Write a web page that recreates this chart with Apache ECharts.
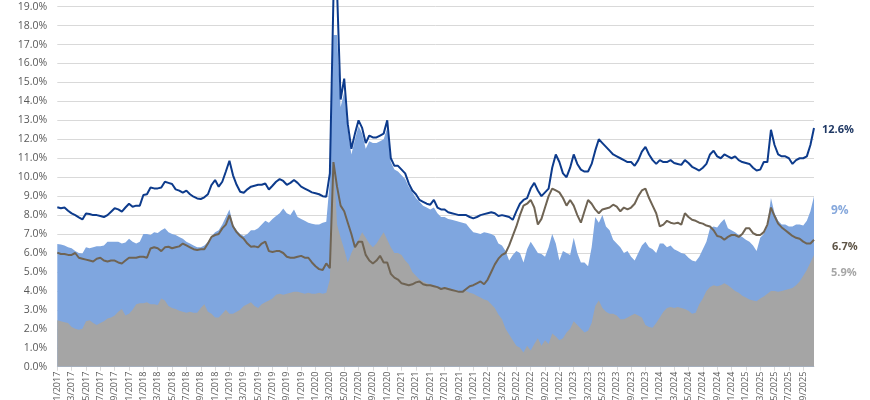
<!DOCTYPE html>
<html>
<head>
<meta charset="utf-8">
<script src="https://cdn.jsdelivr.net/npm/echarts@6/dist/echarts.min.js"></script>
<style>html,body{margin:0;padding:0;background:#fff}#c{width:870px;height:400px}</style>
</head>
<body>
<div id="c"></div>
<script>
// semi-monthly observations, Jan 2017 – Oct 2025
const startYear = 2017, startMonth = 1, pointCount = 212;
const categories = [];
for (let i = 0; i < pointCount; i++) {
  const m = startMonth - 1 + Math.floor(i / 2);
  const y = startYear + Math.floor(m / 12);
  const mm = String(m % 12 + 1).padStart(2, '0');
  const dd = i % 2 === 0 ? '01' : '16';
  categories.push(dd + '/' + mm + '/' + y);
}

const darkBlueLine = [
 8.41,8.36,8.4,8.23,8.09,8.0,7.88,7.77,8.09,8.06,8.0,8.0,7.95,7.9,8.0,8.18,8.36,8.3,8.18,8.4,8.6,8.44,8.5,8.5,9.06,9.1,9.46,9.41,9.41,9.46,9.76,9.7,9.64,9.36,9.29,9.18,9.29,9.1,8.97,8.88,8.85,8.94,9.1,9.59,9.85,9.5,9.76,10.3,10.87,10.1,9.6,9.23,9.18,9.36,
 9.5,9.55,9.6,9.6,9.67,9.35,9.55,9.76,9.9,9.8,9.6,9.7,9.85,9.7,9.5,9.4,9.3,9.2,9.15,9.1,9.0,8.97,10.2,19.5,19.9,14.1,15.2,12.8,11.5,12.3,13.0,12.6,11.8,12.2,12.1,12.1,12.2,12.3,13.0,11.0,10.6,10.6,10.4,10.2,9.67,9.3,9.1,8.8,8.7,8.6,8.55,8.8,8.4,8.3,
 8.3,8.15,8.1,8.05,8.0,8.0,8.0,7.9,7.83,7.9,8.0,8.05,8.1,8.15,8.1,7.95,8.0,7.95,7.9,7.75,8.2,8.6,8.8,8.9,9.4,9.7,9.3,9.0,9.2,9.4,10.5,11.2,10.8,10.2,10.0,10.5,11.2,10.7,10.4,10.3,10.3,10.7,11.4,12.0,11.8,11.6,11.4,11.2,11.1,11.0,10.9,10.8,10.8,10.6,10.9,
 11.35,11.6,11.2,10.9,10.7,10.9,10.8,10.8,10.9,10.75,10.7,10.65,10.9,10.75,10.55,10.45,10.35,10.5,10.7,11.2,11.4,11.1,11.0,11.2,11.1,11.0,11.1,10.9,10.8,10.75,10.7,10.5,10.35,10.4,10.8,10.8,12.5,11.7,11.2,11.1,11.1,11.0,10.7,10.9,11.0,11.0,11.1,11.7,12.6
];
const lightBlueArea = [
 6.47,6.45,6.4,6.3,6.25,6.1,6.0,5.98,6.3,6.25,6.3,6.35,6.35,6.4,6.6,6.6,6.6,6.6,6.5,6.55,6.75,6.6,6.5,6.6,7.0,7.0,6.95,7.1,7.05,7.2,7.3,7.1,7.0,6.95,6.85,6.75,6.6,6.5,6.4,6.3,6.3,6.4,6.6,6.9,7.1,7.2,7.5,7.9,8.3,7.5,7.2,7.0,6.9,7.0,
 7.2,7.2,7.3,7.5,7.7,7.6,7.8,7.95,8.1,8.35,8.1,8.0,8.3,7.9,7.8,7.7,7.6,7.55,7.5,7.5,7.6,7.65,9.8,17.5,17.5,13.7,14.5,12.5,11.2,12.0,12.7,12.3,11.5,11.9,11.8,11.8,11.9,12.0,12.6,10.8,10.4,10.3,10.1,9.9,9.5,9.2,8.9,8.7,8.5,8.4,8.3,8.4,8.1,7.9,
 7.9,7.8,7.75,7.7,7.65,7.6,7.55,7.3,7.1,7.05,7.0,7.1,7.05,7.0,6.9,6.5,6.4,6.1,5.6,5.9,6.1,6.0,5.5,6.2,6.6,6.3,6.0,5.95,5.8,6.3,7.0,6.5,5.6,6.1,6.0,5.9,6.8,6.0,5.5,5.5,5.3,6.3,7.9,7.6,8.0,7.4,7.2,6.7,6.5,6.3,6.0,6.1,5.8,5.6,6.0,
 6.4,6.6,6.3,6.2,6.0,6.5,6.5,6.3,6.4,6.2,6.1,6.0,5.95,5.75,5.6,5.55,5.8,6.2,6.6,7.3,7.4,7.35,7.6,7.8,7.3,7.2,7.1,6.95,6.85,6.7,6.6,6.4,6.1,6.8,7.0,7.5,8.9,8.1,7.7,7.5,7.5,7.4,7.4,7.5,7.5,7.45,7.7,8.2,9.0
];
const greyArea = [
 2.45,2.4,2.35,2.3,2.1,2.0,1.95,2.0,2.4,2.45,2.3,2.2,2.3,2.4,2.55,2.6,2.7,2.9,3.05,2.7,2.8,3.0,3.3,3.35,3.35,3.4,3.3,3.3,3.25,3.6,3.5,3.2,3.1,3.05,2.95,2.9,2.85,2.9,2.85,2.85,3.1,3.3,2.9,2.8,2.6,2.6,2.8,3.0,2.8,2.8,2.9,3.0,3.2,3.3,
 3.4,3.2,3.1,3.3,3.4,3.5,3.6,3.8,3.85,3.8,3.85,3.9,3.95,3.95,3.9,3.85,3.9,3.85,3.85,3.9,3.85,3.9,4.6,11.0,7.5,6.8,6.2,5.5,6.0,6.4,6.7,7.1,6.8,6.5,6.3,6.5,6.8,7.1,6.7,6.3,6.0,6.0,5.9,5.6,5.4,5.0,4.8,4.6,4.5,4.4,4.35,4.3,4.2,4.1,
 4.2,4.15,4.1,4.05,4.0,3.95,4.0,3.9,3.85,3.75,3.65,3.55,3.5,3.3,3.1,2.75,2.5,2.0,1.7,1.4,1.1,1.0,0.75,1.1,0.85,1.2,1.5,1.1,1.4,1.2,1.75,1.6,1.4,1.5,1.8,2.0,2.4,2.2,2.0,1.8,1.9,2.3,3.2,3.5,3.1,2.9,2.8,2.8,2.7,2.5,2.5,2.6,2.7,2.8,2.7,
 2.6,2.2,2.1,2.05,2.3,2.6,2.9,3.1,3.15,3.1,3.15,3.1,3.05,2.95,2.8,2.85,3.3,3.6,4.0,4.2,4.3,4.25,4.3,4.4,4.3,4.15,4.0,3.9,3.75,3.65,3.55,3.5,3.45,3.6,3.7,3.85,4.0,4.0,3.95,4.0,4.05,4.1,4.15,4.3,4.5,4.8,5.1,5.5,5.9
];
const brownLine = [
 6.02,5.95,5.95,5.9,5.9,6.0,5.75,5.7,5.65,5.6,5.55,5.7,5.75,5.6,5.55,5.6,5.6,5.5,5.45,5.6,5.75,5.75,5.75,5.8,5.8,5.75,6.24,6.3,6.25,6.1,6.3,6.33,6.25,6.3,6.35,6.5,6.4,6.3,6.2,6.16,6.2,6.2,6.5,6.85,6.95,7.0,7.3,7.5,8.0,7.4,7.1,6.9,6.75,6.5,
 6.33,6.35,6.3,6.5,6.6,6.1,6.05,6.1,6.1,6.0,5.8,5.75,5.75,5.8,5.85,5.75,5.75,5.5,5.3,5.15,5.1,5.45,5.2,10.8,9.5,8.5,8.2,7.6,7.0,6.3,6.6,6.6,5.9,5.6,5.45,5.6,5.85,5.5,5.5,4.9,4.7,4.6,4.4,4.35,4.3,4.35,4.45,4.5,4.35,4.3,4.3,4.25,4.2,4.1,
 4.15,4.1,4.05,4.0,3.95,3.95,4.1,4.25,4.3,4.4,4.5,4.35,4.6,5.0,5.4,5.7,5.9,6.0,6.4,6.9,7.4,8.0,8.5,8.6,8.8,8.4,7.5,7.8,8.4,9.0,9.4,9.3,9.2,8.9,8.5,8.8,8.5,8.0,7.6,8.2,8.8,8.6,8.3,8.1,8.3,8.35,8.4,8.55,8.45,8.2,8.4,8.3,8.4,8.6,9.0,
 9.3,9.4,8.9,8.5,8.1,7.4,7.5,7.7,7.6,7.55,7.6,7.5,8.1,7.9,7.75,7.7,7.6,7.55,7.45,7.4,7.2,6.9,6.85,6.7,6.85,6.95,6.95,6.85,7.0,7.3,7.3,7.05,6.95,6.95,7.1,7.5,8.4,7.95,7.55,7.35,7.2,7.05,6.9,6.8,6.75,6.6,6.5,6.5,6.7
];
const endLabelTexts = { darkBlue: '12.6%', lightBlue: '9%', brown: '6.7%', grey: '5.9%' };

const FONT = "'Open Sans', 'Noto Sans', sans-serif";
const chart = echarts.init(document.getElementById('c'), null, { renderer: 'canvas' });
chart.setOption({
  animation: false,
  backgroundColor: '#ffffff',
  textStyle: { fontFamily: FONT },
  grid: { left: 57.3, right: 56, top: -12.3, bottom: 33.3, containLabel: false, outerBoundsMode: 'none' },
  xAxis: {
    type: 'category',
    data: categories,
    boundaryGap: false,
    axisLine: { show: true, lineStyle: { color: '#d9d9d9', width: 1 } },
    axisTick: { show: true, interval: 3, length: 4, lineStyle: { color: '#d9d9d9' } },
    axisLabel: { interval: 3, rotate: 90, fontSize: 9, color: '#595959', margin: 5, fontFamily: FONT },
    splitLine: { show: false }
  },
  yAxis: {
    type: 'value',
    min: 0, max: 20, interval: 1,
    axisLine: { show: false },
    axisTick: { show: false },
    axisLabel: { formatter: v => v.toFixed(1) + '%', fontSize: 10.5, color: '#595959', margin: 10, fontFamily: FONT },
    splitLine: { show: true, lineStyle: { color: '#d9d9d9', width: 1 } }
  },
  series: [
    {
      name: 'Light blue', type: 'line', data: lightBlueArea, showSymbol: false, symbol: 'none',
      lineStyle: { width: 0, color: '#7fa6df' }, itemStyle: { color: '#7fa6df' },
      areaStyle: { color: '#7fa6df', opacity: 1 }, z: 1,
      endLabel: { show: true, formatter: endLabelTexts.lightBlue, color: '#86a8dc', fontSize: 12, fontWeight: 'bold', offset: [9, 14], fontFamily: FONT }
    },
    {
      name: 'Grey', type: 'line', data: greyArea, showSymbol: false, symbol: 'none',
      lineStyle: { width: 0, color: '#a5a5a5' }, itemStyle: { color: '#a5a5a5' },
      areaStyle: { color: '#a5a5a5', opacity: 1 }, z: 2,
      endLabel: { show: true, formatter: endLabelTexts.grey, color: '#a6a6a6', fontSize: 11, fontWeight: 'bold', offset: [9, 18], fontFamily: FONT }
    },
    {
      name: 'Brown', type: 'line', data: brownLine, showSymbol: false, symbol: 'none',
      lineStyle: { width: 2, color: '#6f6454' }, itemStyle: { color: '#6f6454' }, z: 3,
      endLabel: { show: true, formatter: endLabelTexts.brown, color: '#5e5446', fontSize: 11, fontWeight: 'bold', offset: [10, 7], fontFamily: FONT }
    },
    {
      name: 'Dark blue', type: 'line', data: darkBlueLine, showSymbol: false, symbol: 'none',
      lineStyle: { width: 2, color: '#0d3b8c' }, itemStyle: { color: '#0d3b8c' }, z: 4,
      endLabel: { show: true, formatter: endLabelTexts.darkBlue, color: '#1f3864', fontSize: 11, fontWeight: 'bold', offset: [0, 2], fontFamily: FONT }
    }
  ]
});
</script>
</body>
</html>
